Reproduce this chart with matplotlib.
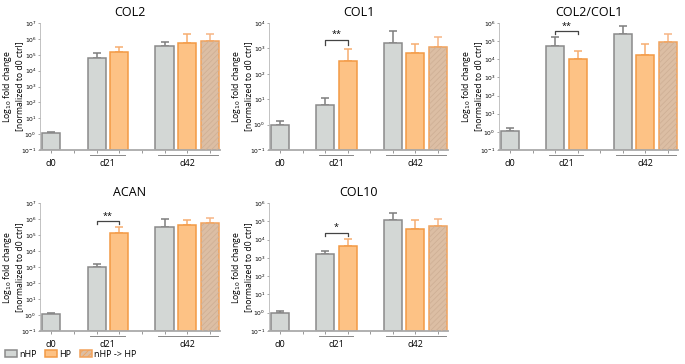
import matplotlib
matplotlib.use('Agg')
import matplotlib.pyplot as plt
from matplotlib.patches import Patch
import numpy as np

plt.rcParams['font.family'] = ['Open Sans', 'DejaVu Sans']
plt.rcParams['hatch.linewidth'] = 0.6

# bar order: d0 nHP, d21 nHP, d21 HP, d42 nHP, d42 HP, d42 nHP->HP
groups = ['nHP', 'nHP', 'HP', 'nHP', 'HP', 'nHP -> HP']

col2_mean = [1.1, 6e4, 1.4e5, 3.5e5, 5.5e5, 7e5]
col2_upper = [1.3, 1.2e5, 3.2e5, 6e5, 2e6, 2e6]

col1_mean = [1.0, 6.0, 320, 1600, 650, 1100]
col1_upper = [1.4, 11, 950, 5000, 1500, 2700]

ratio_mean = [1.1, 5.5e4, 1e4, 2.5e5, 1.8e4, 9e4]
ratio_upper = [1.6, 1.6e5, 2.9e4, 6.5e5, 7e4, 2.4e5]

acan_mean = [1.2, 1000, 1.4e5, 3.2e5, 4e5, 5.5e5]
acan_upper = [1.4, 1500, 3.3e5, 1e6, 8.5e5, 1.2e6]

col10_mean = [1.0, 1.6e3, 4.5e3, 1.2e5, 4e4, 5.5e4]
col10_upper = [1.3, 2.5e3, 1.1e4, 2.8e5, 1.2e5, 1.4e5]

# (title, means, upper error, top decade, significance label)
panels = [
    ('COL2', col2_mean, col2_upper, 7, None),
    ('COL1', col1_mean, col1_upper, 4, '**'),
    ('COL2/COL1', ratio_mean, ratio_upper, 6, '**'),
    ('ACAN', acan_mean, acan_upper, 7, '**'),
    ('COL10', col10_mean, col10_upper, 6, '*'),
]

face = {'nHP': '#d3d7d5', 'HP': '#fdc285', 'nHP -> HP': '#dcbea4'}
edge = {'nHP': '#8a8a8a', 'HP': '#f39a45', 'nHP -> HP': '#f2a25a'}
errc = {'nHP': '#7d7d7d', 'HP': '#f6ad70', 'nHP -> HP': '#f6b585'}

xpos = [0, 2, 3, 5, 6, 7]
W, H = 685, 364
# axes boxes in pixels: left, top, right, bottom
boxes = [(40, 23, 220, 150), (269, 23, 448, 150), (499, 23, 678, 150),
         (40, 203, 220, 331), (269, 203, 448, 331)]

fig = plt.figure(figsize=(W / 100, H / 100), dpi=100)

for (title, mean, upper, top, sig), (l, t, r, b) in zip(panels, boxes):
    ax = fig.add_axes([l / W, 1 - b / H, (r - l) / W, (b - t) / H])
    ax.set_yscale('log')
    for x, g, m, u in zip(xpos, groups, mean, upper):
        ax.bar(x, m - 0.1, bottom=0.1, width=0.8, color=face[g],
               edgecolor=edge[g], linewidth=1.1, zorder=2)
        if g == 'nHP -> HP':
            ax.bar(x, m - 0.1, bottom=0.1, width=0.8, fill=False,
                   hatch='//////', edgecolor='#cfb096', linewidth=0, zorder=3)
        ax.errorbar(x, m, yerr=[[0], [u - m]], fmt='none', ecolor=errc[g],
                    elinewidth=1.1, capsize=3, capthick=1.1, zorder=1)
    ax.set_ylim(0.1, 10 ** top)
    ax.set_xlim(-0.5, 7.45)
    decs = np.arange(-1, top + 1)
    ax.set_yticks(10.0 ** decs)
    ax.set_yticklabels([f'$10^{{{d}}}$' for d in decs], fontsize=4.3)
    ax.minorticks_off()
    ax.set_xticks([0, 1, 2, 3, 4, 5, 6, 7])
    ax.set_xticklabels([])
    ax.tick_params(axis='x', length=2, width=0.6, color='#888888')
    ax.tick_params(axis='y', length=1.5, width=0.5, color='#888888', pad=1)
    for s in ['top', 'right']:
        ax.spines[s].set_visible(False)
    ax.spines['left'].set_color('#aaaaaa')
    ax.spines['left'].set_linewidth(0.5)
    ax.spines['bottom'].set_color('#aaaaaa')
    ax.spines['bottom'].set_linewidth(1.3)
    ax.set_title(title, fontsize=9, pad=5)
    ax.set_ylabel('Log$_{10}$ fold change\n[normalized to d0 ctrl]',
                  fontsize=6.2, linespacing=1.1)
    ax.yaxis.set_label_coords(-16 / (r - l), 0.5)

    # group labels under the axis
    tr = ax.get_xaxis_transform()
    ax.text(0, -0.07, 'd0', transform=tr, ha='center', va='top', fontsize=6.5)
    ax.text(2.5, -0.07, 'd21', transform=tr, ha='center', va='top', fontsize=6.5)
    ax.text(6, -0.07, 'd42', transform=tr, ha='center', va='top', fontsize=6.5)
    ax.plot([1.7, 3.25], [-0.04, -0.04], transform=tr, color='#888888',
            lw=0.7, clip_on=False)
    ax.plot([4.7, 7.35], [-0.04, -0.04], transform=tr, color='#888888',
            lw=0.7, clip_on=False)

    if sig:
        ymax = upper[2] if upper[2] > upper[1] else upper[1]
        yb = ymax * 2.2
        ax.plot([2, 2, 3, 3], [yb / 1.5, yb, yb, yb / 1.5], color='#444444',
                lw=0.9, zorder=4)
        ax.text(2.5, yb * 1.1, sig, ha='center', va='bottom', fontsize=6.5)

handles = [Patch(facecolor=face['nHP'], edgecolor=edge['nHP'], linewidth=1.1),
           Patch(facecolor=face['HP'], edgecolor=edge['HP'], linewidth=1.1),
           Patch(facecolor=face['nHP -> HP'], edgecolor=edge['nHP -> HP'],
                 hatch='//////', linewidth=1.1)]
fig.legend(handles, ['nHP', 'HP', 'nHP -> HP'], loc='lower left',
           bbox_to_anchor=(0.0, 0.0), ncol=3, frameon=False, fontsize=6.5,
           handlelength=1.3, handleheight=0.8, handletextpad=0.2,
           columnspacing=1.0, borderaxespad=0.2)

fig.savefig('out.png', dpi=100)
